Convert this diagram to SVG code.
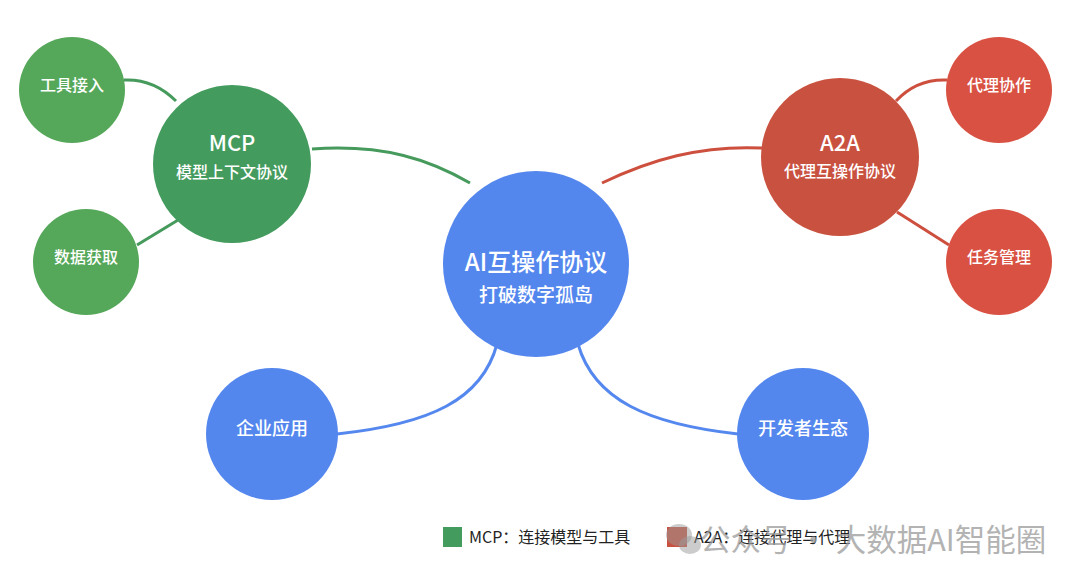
<svg xmlns="http://www.w3.org/2000/svg" width="1080" height="582" viewBox="0 0 1080 582">
<style>
text{font-family:"Noto Sans CJK SC","Liberation Sans",sans-serif;fill:#fff;text-anchor:middle;font-weight:500;}
.g1{fill:#449B5E}.g2{fill:#55A759}.r1{fill:#C9513F}.r2{fill:#D95142}.b{fill:#5487EE}
.t-big{font-size:24px}.t-mid{font-size:19px}.t-h{font-size:22px}.t-s{font-size:16px}.t-m{font-size:18px}
.cg{stroke:#469A5C}.cr{stroke:#CD4F3E}.cb{stroke:#5588EE}
#connectors path{fill:none;stroke-width:3;stroke-linecap:butt}
.leg{fill:#222;font-size:16px;text-anchor:start;font-weight:400}
.wm{fill:#9a9a9a;opacity:0.75;font-size:30.5px;text-anchor:start;font-weight:400}
</style>
<rect width="1080" height="582" fill="#fff"/>
<g id="connectors">
<path class="cg" d="M312 149 C385 144 430 160 470 183"/>
<path class="cg" d="M124 80 C145 79 162 87 176 101"/>
<path class="cg" d="M137 245 L183 217"/>
<path class="cr" d="M602 183 C650 160 700 145 762 148"/>
<path class="cr" d="M947 80 C925 79 908 88 896 101"/>
<path class="cr" d="M897 212 L949 245"/>
<path class="cb" d="M337 434 C430 424 482 400 497 344"/>
<path class="cb" d="M578 344 C594 400 648 424 738 434"/>
</g>
<g id="center"><circle class="b" cx="536" cy="264" r="93"/><text class="t-big" x="536" y="271">AI互操作协议</text><text class="t-mid" x="536" y="302">打破数字孤岛</text></g>
<g id="mcp"><circle class="g1" cx="232" cy="164" r="79"/><text class="t-h" x="232" y="151">MCP</text><text class="t-s" x="232" y="178">模型上下文协议</text></g>
<g id="tool"><circle class="g2" cx="72" cy="90" r="53"/><text class="t-s" x="72" y="91">工具接入</text></g>
<g id="data"><circle class="g2" cx="86" cy="262" r="53"/><text class="t-s" x="86" y="263">数据获取</text></g>
<g id="a2a"><circle class="r1" cx="840" cy="157" r="79"/><text class="t-h" x="840" y="151">A2A</text><text class="t-s" x="840" y="177">代理互操作协议</text></g>
<g id="collab"><circle class="r2" cx="999" cy="90" r="53"/><text class="t-s" x="999" y="91">代理协作</text></g>
<g id="task"><circle class="r2" cx="999" cy="262" r="53"/><text class="t-s" x="999" y="263">任务管理</text></g>
<g id="enterprise"><circle class="b" cx="272" cy="434" r="66"/><text class="t-m" x="272" y="435">企业应用</text></g>
<g id="dev"><circle class="b" cx="803" cy="434" r="66"/><text class="t-m" x="803" y="435">开发者生态</text></g>
<g id="legend">
<rect x="443" y="527" width="19" height="20" fill="#449B5E"/>
<text class="leg" x="469" y="543">MCP：连接模型与工具</text>
<rect x="667" y="527" width="20" height="20" fill="#C9513F"/>
<text class="leg" x="694" y="543">A2A：连接代理与代理</text>
</g>
<g id="watermark">
<ellipse cx="679" cy="535" rx="13" ry="11" fill="#9a9a9a" opacity="0.5"/>
<ellipse cx="690" cy="545" rx="11" ry="9" fill="#9a9a9a" opacity="0.5"/>
<text class="wm" x="700" y="551">公众号 · 大数据AI智能圈</text>
</g>
</svg>
